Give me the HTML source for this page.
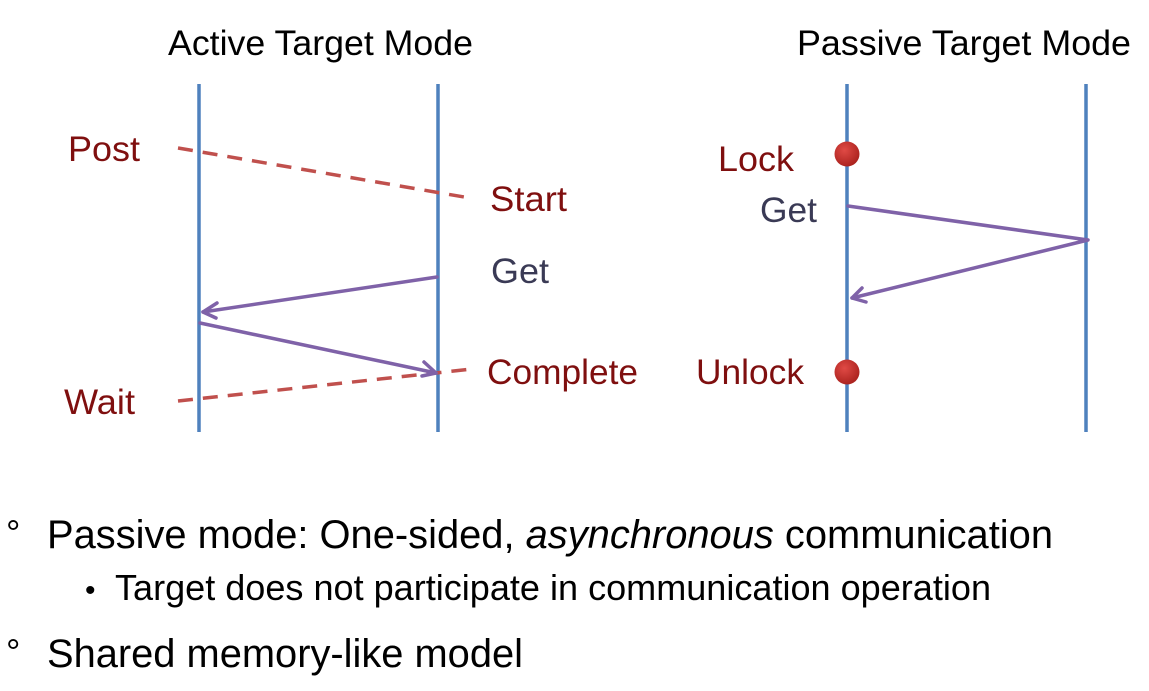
<!DOCTYPE html>
<html><head><meta charset="utf-8"><style>
html,body{margin:0;padding:0;background:#fff;}
svg{display:block;}
text{font-family:"Liberation Sans",Arial,sans-serif;}
</style></head><body>
<svg width="1149" height="691" viewBox="0 0 1149 691" xmlns="http://www.w3.org/2000/svg">
<defs><radialGradient id="g" cx="0.4" cy="0.35" r="0.7"><stop offset="0" stop-color="#e04a45"/><stop offset="1" stop-color="#a8201c"/></radialGradient></defs>
<text x="168" y="55" font-size="35" fill="#000" textLength="305" lengthAdjust="spacingAndGlyphs">Active Target Mode</text>
<text x="797" y="55" font-size="35" fill="#000" textLength="334" lengthAdjust="spacingAndGlyphs">Passive Target Mode</text>
<g stroke="#4f81bd" stroke-width="3.5">
<line x1="199" y1="84" x2="199" y2="432"/><line x1="438" y1="84" x2="438" y2="432"/>
<line x1="847" y1="84" x2="847" y2="432"/><line x1="1086" y1="84" x2="1086" y2="432"/>
</g>
<g stroke="#c0504d" stroke-width="3.5" stroke-dasharray="15,10">
<line x1="178" y1="148" x2="470" y2="198"/>
<line x1="178" y1="401" x2="472" y2="369"/>
</g>
<g stroke="#7f62a8" stroke-width="3.5" fill="none" stroke-linecap="round" stroke-linejoin="round">
<line x1="437" y1="277" x2="203" y2="312"/><polyline points="217,303 203,312 216,318"/>
<line x1="200" y1="323" x2="436" y2="373"/><polyline points="424,362 436,373 422,376"/>
<polyline points="848,206 1088,240 852,298"/><polyline points="862,288 852,298 866,302"/>
</g>
<circle cx="847" cy="154" r="12.5" fill="url(#g)"/>
<circle cx="847" cy="372" r="12.5" fill="url(#g)"/>
<g font-size="35" fill="#7f0f0f">
<text x="68" y="161" textLength="72" lengthAdjust="spacingAndGlyphs">Post</text>
<text x="490" y="211" textLength="77" lengthAdjust="spacingAndGlyphs">Start</text>
<text x="487" y="384" textLength="151" lengthAdjust="spacingAndGlyphs">Complete</text>
<text x="64" y="414" textLength="71" lengthAdjust="spacingAndGlyphs">Wait</text>
<text x="718" y="171" textLength="76" lengthAdjust="spacingAndGlyphs">Lock</text>
<text x="696" y="384" textLength="108" lengthAdjust="spacingAndGlyphs">Unlock</text>
</g>
<g font-size="35" fill="#3a3a55">
<text x="491" y="283" textLength="58" lengthAdjust="spacingAndGlyphs">Get</text>
<text x="760" y="222" textLength="57" lengthAdjust="spacingAndGlyphs">Get</text>
</g>
<text x="6" y="545" font-size="36" fill="#000">°</text>
<text x="47" y="548" font-size="40" fill="#000" textLength="1006" lengthAdjust="spacingAndGlyphs">Passive mode: One-sided, <tspan font-style="italic">asynchronous</tspan> communication</text>
<text x="85" y="600" font-size="30" fill="#000">•</text>
<text x="115" y="600" font-size="36" fill="#000" textLength="876" lengthAdjust="spacingAndGlyphs">Target does not participate in communication operation</text>
<text x="6" y="664" font-size="36" fill="#000">°</text>
<text x="47" y="667" font-size="40" fill="#000" textLength="476" lengthAdjust="spacingAndGlyphs">Shared memory-like model</text>
</svg>
</body></html>
